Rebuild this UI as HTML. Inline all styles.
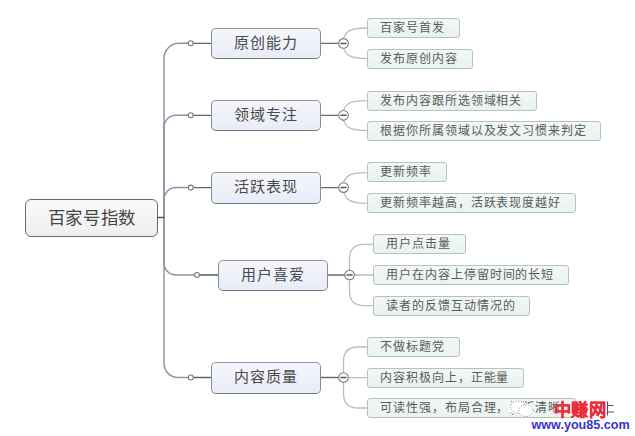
<!DOCTYPE html>
<html lang="zh-CN">
<head>
<meta charset="utf-8">
<style>
html,body{margin:0;padding:0;background:#fff;}
body{width:635px;height:436px;position:relative;overflow:hidden;font-family:"Liberation Serif",serif;}
svg{position:absolute;left:0;top:0;}
.b{position:absolute;box-sizing:border-box;text-align:center;white-space:nowrap;}
.c{left:24.8px;top:199px;width:133.4px;height:38px;border:1.6px solid #6b6b6b;border-radius:6px;
 background:linear-gradient(#fafafa,#efefef);font-size:17.4px;line-height:37px;color:#444;letter-spacing:0.7px;text-indent:0.7px;}
.m{width:110px;height:31.5px;border:1.6px solid #868c97;border-top-color:#959aa4;border-bottom-color:#727882;border-radius:5px;
 background:linear-gradient(#f5f6fc,#e9ecf7);font-size:15px;line-height:28.5px;color:#4a4a4a;letter-spacing:1px;text-indent:0px;}
.l{height:20px;border:1.3px solid #b6c3bd;border-radius:3px;background:linear-gradient(#f1f8f5,#e9f2ee);
 font-size:12px;letter-spacing:0.9px;line-height:19px;color:#5a5a5a;text-align:left;padding-left:12.8px;}
.wm1{position:absolute;left:553.5px;top:396px;font-family:"Liberation Sans",sans-serif;font-weight:bold;font-size:17.3px;letter-spacing:0.6px;color:#ec2b3b;-webkit-text-stroke:0.25px #ec2b3b;white-space:nowrap;}
.wm2{position:absolute;left:531.5px;top:417.5px;font-family:"Liberation Sans",sans-serif;font-weight:bold;font-size:12.6px;color:#3434d0;white-space:nowrap;}
</style>
</head>
<body>
<svg width="635" height="436" viewBox="0 0 635 436">
 <g fill="none" stroke-linecap="round">
  <!-- trunk -->
  <path d="M164,217.5 V58.3 A15,15 0 0 1 179,43.3 H188" stroke="#8c96a2" stroke-width="1.5"/>
  <path d="M164,217.5 V127.3 A12,12 0 0 1 176,115.3 H188" stroke="#8c96a2" stroke-width="1.5"/>
  <path d="M164,217.5 V199.6 A12,12 0 0 1 176,187.6 H188" stroke="#8c96a2" stroke-width="1.5"/>
  <path d="M164,217.5 V263 A12,12 0 0 0 176,275 H194.5" stroke="#8c96a2" stroke-width="1.5"/>
  <path d="M164,217.5 V363.5 A14,14 0 0 0 178,377.5 H188" stroke="#8c96a2" stroke-width="1.5"/>
  <path d="M158,217.5 H164" stroke="#555" stroke-width="1.6"/>
  <!-- circle-to-box -->
  <path d="M193.2,43.3 H211.5 M193.2,115.3 H211.5 M193.2,187.6 H211.5 M193.2,377.5 H211.5" stroke="#56687a" stroke-width="1.3"/>
  <path d="M199.5,275 H218" stroke="#7a8794" stroke-width="2"/>
  <!-- box to minus -->
  <path d="M321,43.3 H338.5 M321,115.3 H338.5 M321,187.6 H338.5 M321,377.5 H338.5 M327,275 H344.5" stroke="#6a6a6a" stroke-width="1.3"/>
  <!-- leaf connectors -->
  <g stroke="#b9bdbd" stroke-width="1.3">
   <path d="M343.5,38.5 C346,31 351,28 366.6,28"/>
   <path d="M343.5,48.1 C346,55.6 351,58.5 366.6,58.5"/>
   <path d="M343.5,110.5 C346,103 351,100.6 366.6,100.6"/>
   <path d="M343.5,120.1 C346,127.6 351,130.5 366.6,130.5"/>
   <path d="M343.5,182.8 C346,175.3 351,172.7 366.6,172.7"/>
   <path d="M343.5,192.4 C346,199.9 351,203.3 366.6,203.3"/>
   <path d="M349.5,270.2 V259 Q349.5,244.3 364,244.3 H372.7"/>
   <path d="M354.3,275 H372.7"/>
   <path d="M349.5,279.8 V291 Q349.5,305.6 364,305.6 H372.7"/>
   <path d="M343.5,372.7 V361.5 Q343.5,347 358,347 H366.6"/>
   <path d="M348.3,377.6 H366.6"/>
   <path d="M343.5,382.3 V393.5 Q343.5,408 358,408 H366.6"/>
  </g>
  <!-- small circles -->
  <g fill="#fff" stroke="#6f7a86" stroke-width="1.1">
   <circle cx="190.7" cy="43.3" r="2.5"/>
   <circle cx="190.7" cy="115.3" r="2.5"/>
   <circle cx="190.8" cy="187.6" r="2.5"/>
   <circle cx="197" cy="275" r="2.5"/>
   <circle cx="190.8" cy="377.5" r="2.5"/>
  </g>
  <!-- minus circles -->
  <g fill="#fff" stroke="#7a7a7a" stroke-width="1.1">
   <circle cx="343.5" cy="43.4" r="4.8"/>
   <circle cx="343.5" cy="115.3" r="4.8"/>
   <circle cx="343.5" cy="187.6" r="4.8"/>
   <circle cx="349.5" cy="275" r="4.8"/>
   <circle cx="343.5" cy="377.5" r="4.8"/>
  </g>
  <g stroke="#555" stroke-width="1.5">
   <path d="M341,43.4 H346 M341,115.3 H346 M341,187.6 H346 M347,275 H352 M341,377.5 H346"/>
  </g>
 </g>
</svg>

<div class="b c">百家号指数</div>

<div class="b m" style="left:211.3px;top:27.5px">原创能力</div>
<div class="b m" style="left:211.1px;top:99.7px">领域专注</div>
<div class="b m" style="left:211.1px;top:172px">活跃表现</div>
<div class="b m" style="left:217.5px;top:259.5px">用户喜爱</div>
<div class="b m" style="left:211.1px;top:361.5px;height:32px;line-height:29px">内容质量</div>

<div class="b l" style="left:366.6px;top:18px;width:93.5px">百家号首发</div>
<div class="b l" style="left:366.6px;top:48.5px;width:106.5px">发布原创内容</div>
<div class="b l" style="left:366.6px;top:90.6px;width:170.3px">发布内容跟所选领域相关</div>
<div class="b l" style="left:366.6px;top:120.5px;width:234.5px">根据你所属领域以及发文习惯来判定</div>
<div class="b l" style="left:366.6px;top:162.4px;width:80.4px">更新频率</div>
<div class="b l" style="left:366.6px;top:193.1px;width:209.5px">更新频率越高，活跃表现度越好</div>
<div class="b l" style="left:372.7px;top:234.3px;width:93.8px">用户点击量</div>
<div class="b l" style="left:372.7px;top:265px;width:196px">用户在内容上停留时间的长短</div>
<div class="b l" style="left:372.7px;top:295.6px;width:157.3px">读者的反馈互动情况的</div>
<div class="b l" style="left:366.6px;top:337px;width:93px">不做标题党</div>
<div class="b l" style="left:366.6px;top:367.7px;width:157.4px">内容积极向上，正能量</div>
<div class="b l" style="left:366.6px;top:398px;width:209.5px">可读性强，布局合理，排版清晰</div>

<!-- watermark -->
<svg width="635" height="436" viewBox="0 0 635 436">
 <path d="M509.5,412 C507.5,408 509,401.5 515,400.8 C520,400.3 524,401.2 526,403.5 L534,405 L534,416.3 L522,416.3 L515,414 Z" fill="#fff"/>
 <g fill="none" stroke="#7a7a7a" stroke-width="0.9" stroke-dasharray="1.1 1.7">
  <path d="M512,414.5 L513.5,411.5 C509.5,409.5 509.5,403.5 514.5,401.8 C519,400.2 524.5,402 525.5,405.5"/>
  <ellipse cx="526" cy="410.5" rx="7.2" ry="6"/>
  <path d="M512,414.5 L516.5,412.6 C518,413.2 519,413.3 519.5,413.3"/>
 </g>
</svg>
<svg width="635" height="436" viewBox="0 0 635 436"><path d="M607.5,401.5 V415.5 M607.5,405.5 H613.5 M607.5,412 H614" stroke="#555" stroke-width="1.1" fill="none"/></svg>
<div class="wm1">中赚网</div>
<div class="wm2">www.you85.com</div>
</body>
</html>
